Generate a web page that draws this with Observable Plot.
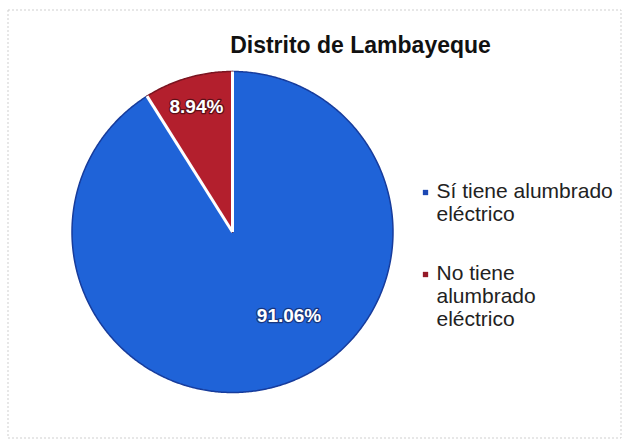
<!DOCTYPE html>
<html><head><meta charset="utf-8">
<script src="https://cdn.jsdelivr.net/npm/d3@7"></script>
<script src="https://cdn.jsdelivr.net/npm/@observablehq/plot@0.6"></script>
<style>html,body{margin:0;padding:0;background:#fff} svg{display:block}</style>
</head><body><div id="chart"></div>
<script>
// ---- data ----
const title = "Distrito de Lambayeque";
const categories = ["Sí tiene alumbrado eléctrico", "No tiene alumbrado eléctrico"];
const values = [91.06, 8.94];
const valueLabels = ["91.06%", "8.94%"];
const legendLabels = ["Sí tiene alumbrado\neléctrico", "No tiene\nalumbrado\neléctrico"];

// ---- style / layout ----
const colors = ["#1f63d8", "#b31f2d"];
const edgeColors = ["#173c9c", "#7a1420"];
const markerColors = ["#1c48b4", "#951a28"];
const labelHalo = ["#17367f", "#5e0f18"];
const W = 626, H = 443, CX = 232, CY = 231.5, R = 160.5;
const labelPolar = [{deg: 146, r: 0.63}, {deg: null, r: 0.81}]; // null -> slice mid-angle
const legendBaselines = [197, 279];
const legendFont = 21, legendLH = 23.5;
const legendX = 436, markerX = 425;

// ---- geometry from data ----
const arcs = d3.pie().sort(null).value(d => d).startAngle(0).endAngle(2 * Math.PI)(values);
const slicePoints = arcs.map((a, i) => {
  const pts = [{cat: categories[i], x: 0, y: 0}];
  const n = Math.max(2, Math.ceil((a.endAngle - a.startAngle) / (Math.PI / 360)));
  for (let k = 0; k <= n; ++k) {
    const t = a.startAngle + (a.endAngle - a.startAngle) * k / n;
    pts.push({cat: categories[i], x: Math.sin(t), y: Math.cos(t)});
  }
  return pts;
});
const boundaries = arcs.map(a => a.startAngle);
const labelData = arcs.map((a, i) => {
  const p = labelPolar[i];
  const t = p.deg == null ? (a.startAngle + a.endAngle) / 2 : p.deg * Math.PI / 180;
  return {text: valueLabels[i], x: p.r * Math.sin(t), y: p.r * Math.cos(t), i};
});

const marks = [
  Plot.frame({stroke: "#cfcfcf", strokeDasharray: "2,2", insetLeft: 7.5, insetTop: 9.5, insetRight: 5.5, insetBottom: 5.5}),
  ...slicePoints.map((pts, i) => Plot.line(pts, {
    x: "x", y: "y", z: "cat", fill: "cat", stroke: edgeColors[i], strokeWidth: 1.5, curve: "linear-closed"
  })),
  Plot.link(boundaries, {
    x1: () => 0, y1: () => 0, x2: t => Math.sin(t), y2: t => Math.cos(t),
    stroke: "#fff", strokeWidth: 3
  }),
  ...labelData.map(d => Plot.text([d], {
    x: "x", y: "y", text: "text", fill: "#fff", stroke: labelHalo[d.i], strokeWidth: 2.5,
    fontSize: 19, fontWeight: "bold", lineAnchor: "middle", textAnchor: "middle"
  })),
  Plot.text([title], {
    text: d => d, frameAnchor: "top-left", dx: 360, dy: 52, textAnchor: "middle", lineAnchor: "bottom",
    fontSize: 23, fontWeight: "bold", fill: "#111"
  }),
  ...legendLabels.map((lab, i) => Plot.text([lab], {
    text: d => d, frameAnchor: "top-left", dx: legendX,
    dy: legendBaselines[i] - 0.71 * legendLH,
    textAnchor: "start", lineAnchor: "top", fontSize: legendFont, lineHeight: legendLH / legendFont,
    fill: "#222"
  })),
  ...legendLabels.map((lab, i) => Plot.dot([lab], {
    frameAnchor: "top-left", dx: markerX, dy: legendBaselines[i] - 5,
    symbol: "square", r: 3, fill: markerColors[i], stroke: "none"
  }))
];

const chart = Plot.plot({
  width: W, height: H, margin: 0,
  x: {domain: [-1, 1], range: [CX - R, CX + R], axis: null},
  y: {domain: [-1, 1], range: [CY + R, CY - R], axis: null},
  color: {domain: categories, range: colors},
  style: {fontFamily: "'Liberation Sans', Arial, sans-serif", background: "#fff", overflow: "visible"},
  marks
});
document.getElementById("chart").appendChild(chart);
</script>
</body></html>
